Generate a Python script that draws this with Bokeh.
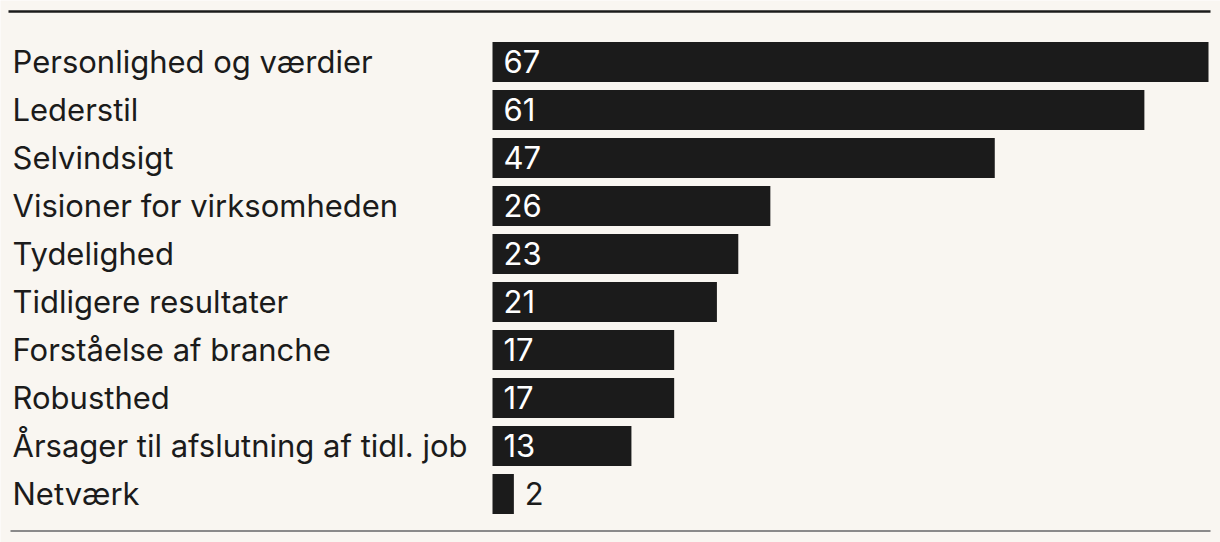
from bokeh.plotting import figure
from bokeh.models import Range1d, ColumnDataSource
from bokeh.core.properties import value
from bokeh.embed import file_html
from bokeh.resources import INLINE

categories = ["Personlighed og værdier", "Lederstil", "Selvindsigt",
              "Visioner for virksomheden", "Tydelighed", "Tidligere resultater",
              "Forståelse af branche", "Robusthed",
              "Årsager til afslutning af tidl. job", "Netværk"]
values = [67, 61, 47, 26, 23, 21, 17, 17, 13, 2]

W, H = 1220, 542
BG = "#f9f6f1"
INK = "#1b1b1b"
FONT = "Inter"

# layout: bar origin and scale in pixels
x0_px, px_per_unit = 492, 716 / 67
row0_px, pitch = 61.5, 48
xs = -x0_px / px_per_unit
xe = (W - x0_px) / px_per_unit
ytop = -row0_px / pitch
ybot = (H - row0_px) / pitch


def px_x(px):
    return xs + px / px_per_unit


def px_y(px):
    return (px - row0_px) / pitch


p = figure(width=W, height=H, output_backend="svg", toolbar_location=None,
           x_range=Range1d(xs, xe), y_range=Range1d(ybot, ytop),
           min_border=0, background_fill_color=BG, border_fill_color=BG,
           outline_line_color=None)
p.axis.visible = False
p.grid.visible = False

rows = list(range(len(categories)))
threshold = 5
inside = [v >= threshold for v in values]
src = ColumnDataSource(dict(
    y=rows, v=values, cat=categories,
    lab=[str(v) for v in values],
    lx=[0 if ins else v for ins, v in zip(inside, values)],
    lc=["#ffffff" if ins else INK for ins in inside],
    cx=[xs] * len(rows),
))

p.hbar(y="y", left=0, right="v", height=40 / pitch, source=src,
       fill_color=INK, line_color=None)
p.text(x="cx", y="y", text="cat", source=src, x_offset=12, y_offset=-1,
       text_font=value(FONT), text_font_size="31px", text_color=INK,
       text_baseline="middle", text_align="left")
p.text(x="lx", y="y", text="lab", source=src, x_offset=11, y_offset=-1,
       text_font=value(FONT), text_font_size="31px", text_color="lc",
       text_baseline="middle", text_align="left")

# top and bottom rules
p.segment(x0=[px_x(8)], x1=[px_x(1210)], y0=[px_y(11)], y1=[px_y(11)],
          line_color=INK, line_width=2.5)
p.segment(x0=[px_x(10)], x1=[px_x(1210)], y0=[px_y(530.5)], y1=[px_y(530.5)],
          line_color="#8a8a8a", line_width=2)

open("out.html", "w").write(file_html(p, INLINE))
